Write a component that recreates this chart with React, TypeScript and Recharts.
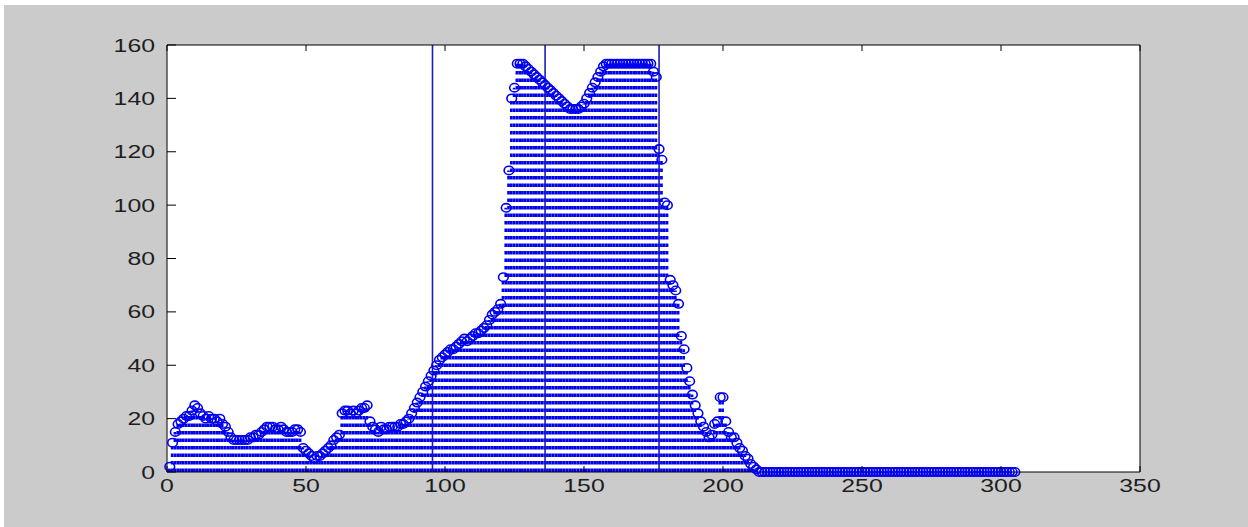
import {
  Bar,
  CartesianGrid,
  ComposedChart,
  ReferenceLine,
  Scatter,
  XAxis,
  YAxis,
} from "recharts";

// sample values, index 1..305
const magnitude = [
  2, 11, 15, 18, 19, 20, 21, 21, 23, 25,
  24, 22, 21, 20, 21, 20, 20, 19, 20, 18,
  17, 15, 13, 12, 12, 12, 12, 12, 12, 13,
  13, 14, 14, 15, 16, 17, 17, 17, 16, 16,
  17, 16, 15, 15, 15, 16, 16, 15, 9, 8,
  7, 6, 5, 6, 6, 7, 8, 9, 10, 12,
  13, 14, 22, 23, 23, 22, 23, 22, 23, 24,
  24, 25, 19, 17, 16, 15, 17, 16, 16, 17,
  17, 17, 17, 18, 18, 19, 20, 22, 24, 26,
  28, 30, 32, 34, 36, 38, 40, 42, 43, 44,
  45, 46, 46, 47, 48, 49, 50, 49, 50, 51,
  52, 52, 53, 54, 55, 57, 59, 60, 61, 63,
  73, 99, 113, 140, 144, 153, 153, 153, 152, 151,
  150, 149, 148, 147, 146, 145, 144, 143, 142, 141,
  140, 139, 138, 137, 136, 136, 136, 136, 137, 138,
  140, 142, 144, 146, 148, 150, 152, 153, 153, 153,
  153, 153, 153, 153, 153, 153, 153, 153, 153, 153,
  153, 153, 153, 153, 150, 148, 121, 117, 101, 100,
  72, 70, 68, 63, 51, 46, 39, 34, 29, 25,
  22, 19, 17, 15, 13, 14, 18, 19, 28, 28,
  19, 15, 13, 13, 11, 9, 8, 6, 5, 3,
  2, 1, 0, 0, 0, 0, 0, 0, 0, 0,
  0, 0, 0, 0, 0, 0, 0, 0, 0, 0,
  0, 0, 0, 0, 0, 0, 0, 0, 0, 0,
  0, 0, 0, 0, 0, 0, 0, 0, 0, 0,
  0, 0, 0, 0, 0, 0, 0, 0, 0, 0,
  0, 0, 0, 0, 0, 0, 0, 0, 0, 0,
  0, 0, 0, 0, 0, 0, 0, 0, 0, 0,
  0, 0, 0, 0, 0, 0, 0, 0, 0, 0,
  0, 0, 0, 0, 0, 0, 0, 0, 0, 0,
  0, 0, 0, 0, 0,
];

const markerLines = [95.5, 136, 177];
const xTicks = [0, 50, 100, 150, 200, 250, 300, 350];
const yTicks = [0, 20, 40, 60, 80, 100, 120, 140, 160];

const rows = magnitude.map((v, i) => ({ x: i + 1, v }));

const BLUE = "#0000f0";
const FONT = '"Liberation Sans", Arial, sans-serif';

// the old figure has wide, stretched digits
function Label({ x, y, anchor, value }: any) {
  const s = String(value);
  return (
    <text
      x={x}
      y={y}
      textAnchor={anchor}
      fontSize={18}
      fill="#1e1e1e"
      fontFamily={FONT}
      textLength={s.length * 13.8}
      lengthAdjust="spacingAndGlyphs"
    >
      {s}
    </text>
  );
}

function BottomTick({ x, y, payload }: any) {
  return (
    <g>
      <line x1={x} x2={x} y1={y} y2={y - 6} stroke="#000" />
      <Label x={x} y={y + 20} anchor="middle" value={payload.value} />
    </g>
  );
}

function TopTick({ x, y }: any) {
  return <line x1={x} x2={x} y1={y} y2={y + 6} stroke="#000" />;
}

function LeftTick({ x, y, payload }: any) {
  return (
    <g>
      <line x1={x} x2={x + 9} y1={y} y2={y} stroke="#000" />
      <Label x={x - 12} y={y + 6.5} anchor="end" value={payload.value} />
    </g>
  );
}

function RightTick({ x, y }: any) {
  return <line x1={x} x2={x - 9} y1={y} y2={y} stroke="#000" />;
}

// dotted stem from the baseline up to the sample
function Stem({ x, y, width, height }: any) {
  const cx = x + width / 2;
  return (
    <line
      x1={cx}
      x2={cx}
      y1={y + height}
      y2={y}
      stroke={BLUE}
      strokeWidth={2.7}
      strokeDasharray="3.4 4.1"
    />
  );
}

function Ring({ cx, cy }: any) {
  return <ellipse cx={cx} cy={cy} rx={4.8} ry={4.2} fill="none" stroke={BLUE} strokeWidth={1.6} />;
}

export default function App() {
  return (
    <div
      style={{
        position: "fixed",
        left: 0,
        top: 0,
        width: 1248,
        height: 527,
        background: "#fff",
      }}
    >
      <div
        style={{
          position: "absolute",
          left: 4,
          top: 5,
          width: 1244,
          height: 522,
          background: "#cbcbcb",
        }}
      />
      <div style={{ position: "absolute", left: 0, top: 0 }}>
        <ComposedChart
          width={1248}
          height={527}
          data={rows}
          margin={{ top: 40, right: 103, bottom: 25, left: 117 }}
        >
          <CartesianGrid horizontal={false} vertical={false} fill="#fff" />
          <XAxis
            dataKey="x"
            type="number"
            domain={[0, 350]}
            ticks={xTicks}
            interval={0}
            height={30}
            tickSize={0}
            tickMargin={0}
            axisLine={{ stroke: "#000" }}
            tick={<BottomTick />}
          />
          <XAxis
            xAxisId="top"
            orientation="top"
            dataKey="x"
            type="number"
            domain={[0, 350]}
            ticks={xTicks}
            interval={0}
            height={5}
            tickSize={0}
            tickMargin={0}
            axisLine={{ stroke: "#000" }}
            tick={<TopTick />}
          />
          <YAxis
            type="number"
            domain={[0, 160]}
            ticks={yTicks}
            interval={0}
            width={50}
            tickSize={0}
            tickMargin={0}
            axisLine={{ stroke: "#000" }}
            tick={<LeftTick />}
          />
          <YAxis
            yAxisId="right"
            orientation="right"
            type="number"
            domain={[0, 160]}
            ticks={yTicks}
            interval={0}
            width={5}
            tickSize={0}
            tickMargin={0}
            axisLine={{ stroke: "#000" }}
            tick={<RightTick />}
          />
          <Bar dataKey="v" barSize={2} shape={<Stem />} isAnimationActive={false} />
          {markerLines.map((v) => (
            <ReferenceLine key={v} x={v} stroke="#1c1cb8" strokeWidth={1.6} />
          ))}
          <Scatter dataKey="v" shape={<Ring />} isAnimationActive={false} />
        </ComposedChart>
      </div>
    </div>
  );
}
